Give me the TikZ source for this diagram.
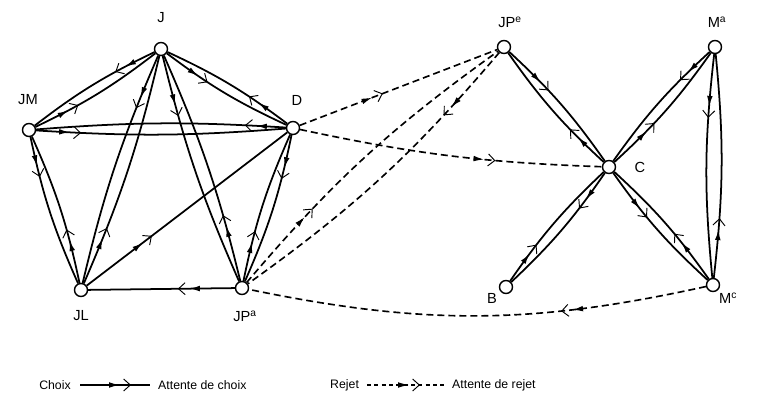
\documentclass[tikz,border=0pt]{standalone}
\usepackage{fontspec}
\setmainfont{Liberation Sans}
\usetikzlibrary{arrows.meta, decorations.markings}

\begin{document}
\begin{tikzpicture}[x=0.03cm, y=0.03cm,
        % Node Styles
        pers/.style={circle, draw, line width=1.2pt, fill=white, minimum size=0.39cm, inner sep=0pt},
        nom/.style={font=\fontsize{12.5}{14}\selectfont, inner sep=0pt},
        leg/.style={font=\fontsize{10.5}{12}\selectfont, inner sep=0pt},
        % Edge Styles
        lien/.style={line width=1.5pt},
        rejet/.style={line width=1.4pt, dash pattern=on 0.21cm off 0.12cm},
        plein/.tip={Latex[length=0.33cm, width=0.17cm]},
        ouvert/.tip={Straight Barb[length=0.2cm, width=0.36cm, line width=0.8pt]},
        choix/.style={postaction={decorate}, decoration={markings,
            mark=at position (#1+6)*0.03cm with {\arrow{plein}},
            mark=at position (#1+17)*0.03cm with {\arrow{ouvert}}}},
        choix/.default=30
    ]
    \useasboundingbox (0,0) rectangle (776,403);

    % --- Persons ---
    \node[pers] (J) at (161,354) {};
    \node[pers] (JM) at (29,273) {};
    \node[pers] (D) at (293,275) {};
    \node[pers] (JL) at (81,113) {};
    \node[pers] (JPa) at (242,115) {};
    \node[pers] (JPe) at (504,356) {};
    \node[pers] (Ma) at (715,356) {};
    \node[pers] (C) at (609,236) {};
    \node[pers] (B) at (506,116) {};
    \node[pers] (Mc) at (713,118) {};

    % --- Names ---
    \node[nom] (nJ) at (161,385) {J};
    \node[nom] (nJM) at (28,303) {JM};
    \node[nom] (nD) at (297,303) {D};
    \node[nom] (nJL) at (81,87) {JL};
    \node[nom] (nJPa) at (245,87) {JP\textsuperscript{a}};
    \node[nom] (nJPe) at (510,381) {JP\textsuperscript{e}};
    \node[nom] (nMa) at (717,381) {M\textsuperscript{a}};
    \node[nom] (nC) at (640,236) {C};
    \node[nom] (nB) at (492,105) {B};
    \node[nom] (nMc) at (728,105) {M\textsuperscript{c}};

    % --- Choices, left group ---
    \draw[lien, choix=27] (J) to[bend right=6] (JM);
    \draw[lien, choix=31] (JM) to[bend right=6] (J);
    \draw[lien, choix=33] (J) to[bend right=6] (D);
    \draw[lien, choix=30] (D) to[bend right=6] (J);
    \draw[lien, choix=28] (JM) to[bend right=4] (D);
    \draw[lien, choix=24] (D) to[bend right=4] (JM);
    \draw[lien, choix=40] (J) to[bend right=5] (JL);
    \draw[lien, choix=43] (JL) to[bend right=5] (J);
    \draw[lien, choix=45] (J) to[bend right=5] (JPa);
    \draw[lien, choix=51] (JPa) to[bend right=5] (J);
    \draw[lien, choix=24] (JM) to[bend right=6] (JL);
    \draw[lien, choix=38] (JL) to[bend right=6] (JM);
    \draw[lien, choix=28] (D) to[bend left=6] (JPa);
    \draw[lien, choix=34] (JPa) to[bend left=6] (D);
    \draw[lien, choix=65] (JL) -- (D);
    \draw[lien, choix=40] (JPa) -- (JL);

    % --- Choices, right group ---
    \draw[lien, choix=38] (JPe) to[bend left=6] (C);
    \draw[lien, choix=30] (C) to[bend left=6] (JPe);
    \draw[lien, choix=24] (Ma) to[bend right=6] (C);
    \draw[lien, choix=39] (C) to[bend right=6] (Ma);
    \draw[lien, choix=27] (C) to[bend left=6] (B);
    \draw[lien, choix=28] (B) to[bend left=6] (C);
    \draw[lien, choix=39] (C) to[bend right=6] (Mc);
    \draw[lien, choix=40] (Mc) to[bend right=6] (C);
    \draw[lien, choix=47] (Ma) to[bend right=6] (Mc);
    \draw[lien, choix=43] (Mc) to[bend right=6] (Ma);

    % --- Rejections ---
    \draw[rejet, choix=82] (JPa) to[bend left=7] (JPe);
    \draw[rejet, choix=67] (JPe) to[bend left=7] (JPa);
    \draw[rejet, choix=72] (D) -- (JPe);
    \draw[rejet, choix=181] (D) to[bend right=5] (C);
    \draw[rejet, choix=130] (Mc) to[bend left=12] (JPa);

    % --- Legend ---
    \node[leg] (lChoix) at (55,18) {Choix};
    \coordinate (lc1) at (80,18);
    \coordinate (lc2) at (150,18);
    \draw[lien, line width=1.2pt, choix=34] (lc1) -- (lc2);
    \node[leg, anchor=west] (lAttC) at (158,18) {Attente de choix};
    \node[leg, anchor=west] (lRejet) at (330,18) {Rejet};
    \coordinate (lr1) at (367,18);
    \coordinate (lr2) at (446,18);
    \draw[rejet, line width=1pt, dash pattern=on 0.12cm off 0.1cm, choix=36] (lr1) -- (lr2);
    \node[leg, anchor=west] (lAttR) at (452,18) {Attente de rejet};

\end{tikzpicture}
\end{document}
